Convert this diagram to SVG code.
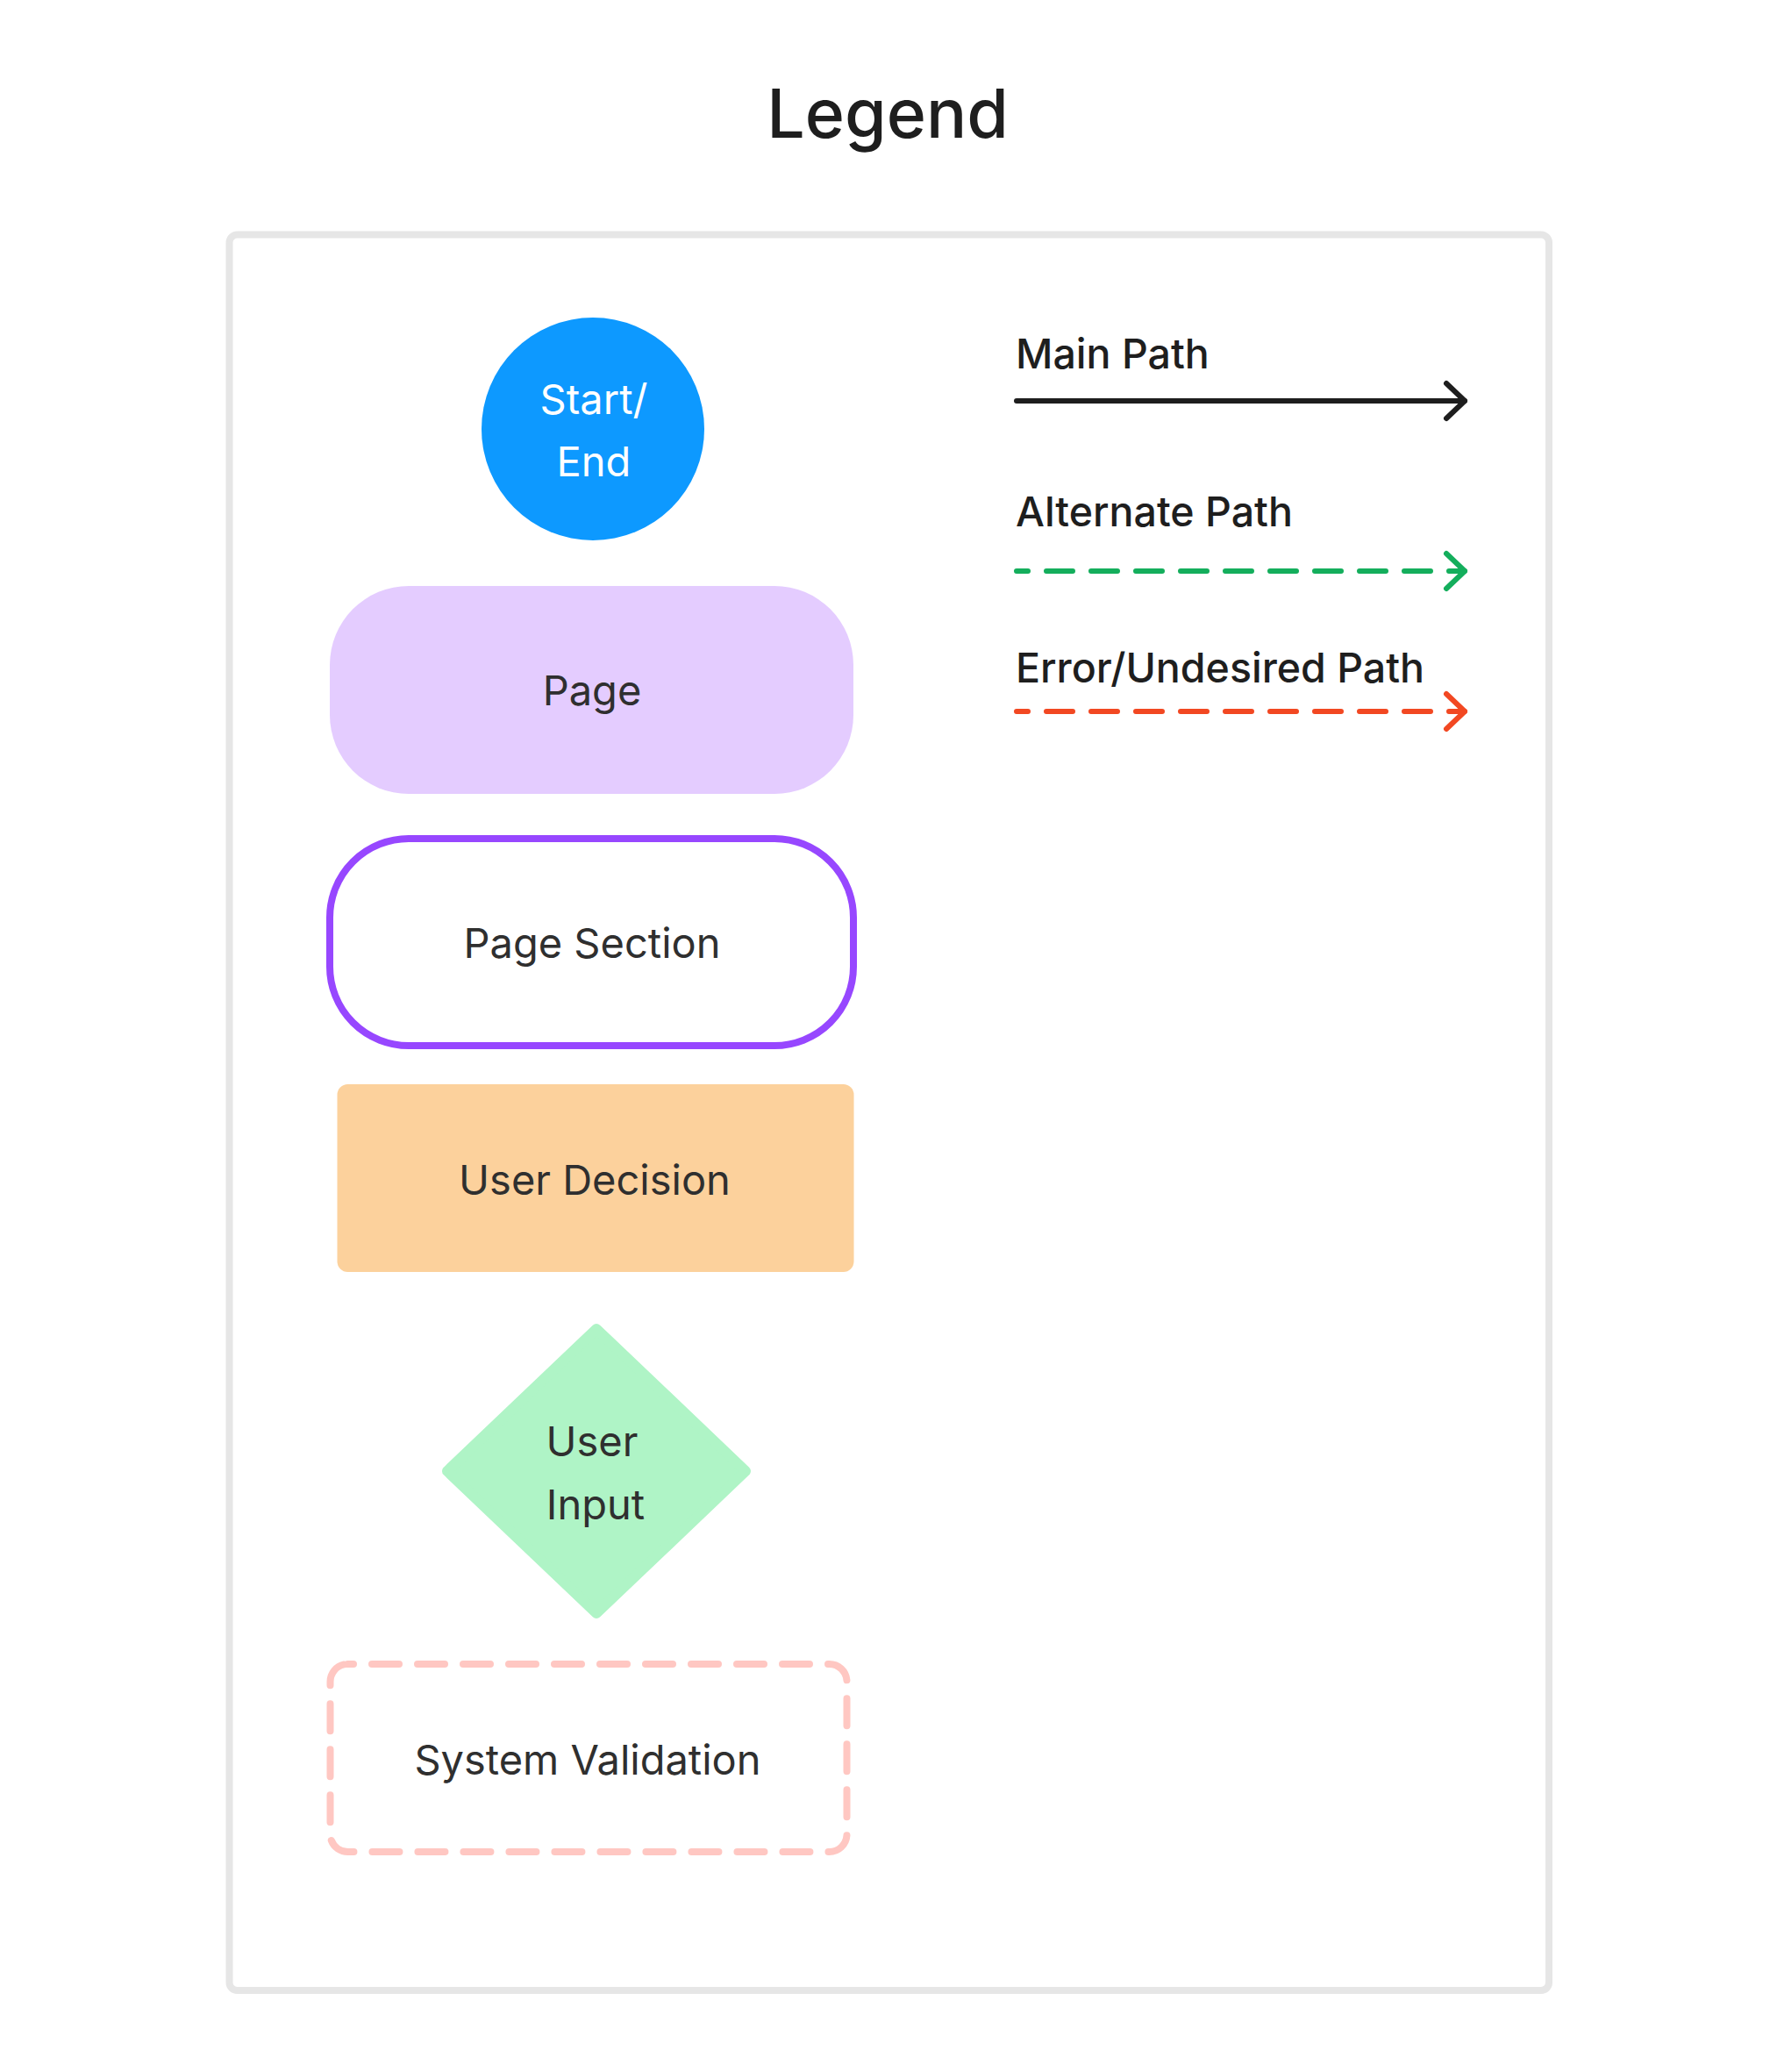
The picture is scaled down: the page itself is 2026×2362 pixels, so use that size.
<svg xmlns="http://www.w3.org/2000/svg" width="2026" height="2362" viewBox="0 0 2026 2362">
<style>
.title{font-family:Inter,"Noto Sans",sans-serif;font-size:77px;font-weight:500;fill:#1e1e1e;text-anchor:middle}
.lbl{font-family:Inter,"Noto Sans",sans-serif;font-size:46.5px;font-weight:500;fill:#1e1e1e}
.node{font-family:Inter,"Noto Sans",sans-serif;font-size:47px;font-weight:400;fill:#2f2f2f;text-anchor:middle}
.white{fill:#ffffff}
.conn{fill:none;stroke-width:6;stroke-linecap:round;stroke-linejoin:round}
.dash{stroke-dasharray:30 21;stroke-dashoffset:17}
</style>
<defs>
<marker id="arrBlack" markerUnits="userSpaceOnUse" markerWidth="40" markerHeight="60" viewBox="-30 -30 40 60" refX="0" refY="0" orient="auto">
<path d="M-21,-20 L0,0 L-21,20" fill="none" stroke="#1e1e1e" stroke-width="6" stroke-linecap="round" stroke-linejoin="round"/>
</marker>
<marker id="arrGreen" markerUnits="userSpaceOnUse" markerWidth="40" markerHeight="60" viewBox="-30 -30 40 60" refX="0" refY="0" orient="auto">
<path d="M-21,-20 L0,0 L-21,20" fill="none" stroke="#14ae5c" stroke-width="6" stroke-linecap="round" stroke-linejoin="round"/>
</marker>
<marker id="arrRed" markerUnits="userSpaceOnUse" markerWidth="40" markerHeight="60" viewBox="-30 -30 40 60" refX="0" refY="0" orient="auto">
<path d="M-21,-20 L0,0 L-21,20" fill="none" stroke="#f24822" stroke-width="6" stroke-linecap="round" stroke-linejoin="round"/>
</marker>
</defs>
<rect width="2026" height="2362" fill="#ffffff"/>
<text class="title" x="1012" y="157">Legend</text>
<rect id="frame" x="261.5" y="267.5" width="1504.5" height="2001.5" rx="9" fill="none" stroke="#e6e6e6" stroke-width="8"/>

<g id="start-end">
<circle cx="676" cy="489" r="127" fill="#0d99ff"/>
<text class="node white" x="677" y="472">Start/</text>
<text class="node white" x="677" y="543">End</text>
</g>
<g id="page">
<rect x="376" y="668" width="597" height="237" rx="90" fill="#e4ccff"/>
<text class="node" x="675" y="804">Page</text>
</g>
<g id="page-section">
<rect x="376" y="956" width="597" height="236" rx="90" fill="#ffffff" stroke="#9747ff" stroke-width="8"/>
<text class="node" x="675" y="1092">Page Section</text>
</g>
<g id="user-decision">
<rect x="384.5" y="1236" width="589" height="214" rx="12" fill="#fcd19c"/>
<text class="node" x="678" y="1362">User Decision</text>
</g>
<g id="user-input">
<polygon points="680,1515 850,1677 680,1839 510,1677" fill="#aff4c6" stroke="#aff4c6" stroke-width="12" stroke-linejoin="round"/>
<text class="node" x="675" y="1660">User</text>
<text class="node" x="679" y="1732">Input</text>
</g>
<g id="system-validation">
<rect x="376.5" y="1897" width="589" height="214" rx="20" fill="#ffffff" stroke="#ffc7c2" stroke-width="8" stroke-dasharray="31 21" stroke-dashoffset="24.5" stroke-linecap="round"/>
<text class="node" x="670" y="2023">System Validation</text>
</g>

<g id="legend-labels">
<text class="lbl" x="1158" y="420">Main Path</text>
<text class="lbl" x="1158" y="600">Alternate Path</text>
<text class="lbl" x="1158" y="778">Error/Undesired Path</text>
</g>
<g id="connectors">
<path class="conn" d="M1159,457 L1670,457" stroke="#1e1e1e" marker-end="url(#arrBlack)"/>
<path class="conn dash" d="M1159,651 L1670,651" stroke="#14ae5c" marker-end="url(#arrGreen)"/>
<path class="conn dash" d="M1159,811 L1670,811" stroke="#f24822" marker-end="url(#arrRed)"/>
</g>
</svg>
